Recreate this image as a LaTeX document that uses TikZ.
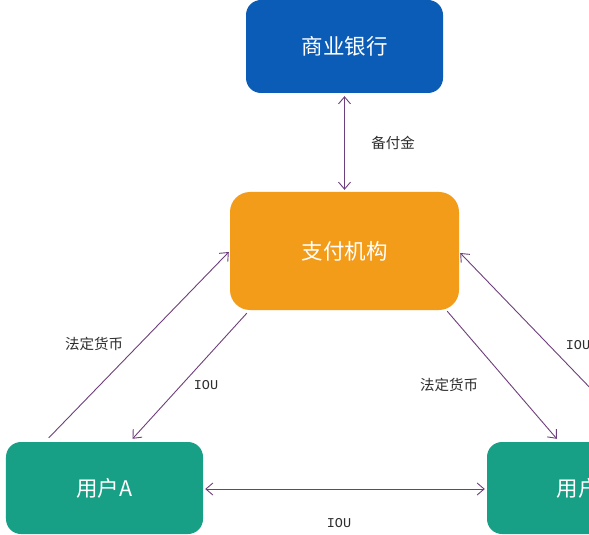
\documentclass[tikz,border=0pt]{standalone}
\usepackage{fontspec}
\setmainfont{Noto Sans CJK SC}
\newfontfamily\ioufont{Liberation Mono}
\usetikzlibrary{arrows.meta,calc}
\definecolor{bankblue}{HTML}{0B5CB6}
\definecolor{payorange}{HTML}{F39C1A}
\definecolor{userteal}{HTML}{17A085}
\definecolor{arrpurple}{HTML}{6E3F7C}
\definecolor{labelgray}{HTML}{2E2E2E}
\tikzset{
  boxnode/.style={rounded corners=15bp, text=white, font=\fontsize{21.5bp}{24bp}\selectfont, inner sep=0pt},
  link/.style={draw=arrpurple, line width=0.9bp},
  tiphead/.style={-{Straight Barb[length=7bp,width=12bp,line width=0.9bp]}},
  bothhead/.style={{Straight Barb[length=7bp,width=12bp,line width=0.9bp]}-{Straight Barb[length=7bp,width=12bp,line width=0.9bp]}},
  lab/.style={text=labelgray, font=\fontsize{14.5bp}{17bp}\selectfont, inner sep=0pt},
  ioulab/.style={text=labelgray, font=\ioufont\fontsize{13.5bp}{16bp}\selectfont, inner sep=0pt}
}
\begin{document}
\begin{tikzpicture}[x=1bp,y=-1bp]
\path[use as bounding box, clip] (0,0) rectangle (589,535);
\fill[white] (0,0) rectangle (589,535);
\node[boxnode, fill=bankblue, minimum width=197bp, minimum height=93bp] (bank) at (344.5,46.5) {商业银行};
\node[boxnode, fill=payorange, rounded corners=20bp, minimum width=229bp, minimum height=118bp] (pay) at (344.5,251) {支付机构};
\node[boxnode, fill=userteal, minimum width=197bp, minimum height=92bp] (ua) at (104.5,488) {用户A};
\node[boxnode, fill=userteal, minimum width=197bp, minimum height=92bp] (ub) at (585.5,488) {用户B};
\coordinate (offb) at (622,421);
% bank <-> pay
\draw[link, bothhead] ($(bank.south)+(0,3)$) -- ($(pay.north)+(0,-2)$);
\node[lab] (lbf) at (393,143) {备付金};
% ua -> pay (legal currency)
\draw[link, tiphead] ($(ua.north west)+(43,-4)$) -- ($(pay.west)+(-1,1)$);
\node[lab] (l1) at (94,344) {法定货币};
% pay -> ua (IOU)
\draw[link, tiphead] ($(pay.south west)+(17,3)$) -- ($(ua.north)+(28,-3)$);
\node[ioulab] (l2) at (206,385) {IOU};
% pay -> ub (legal currency)
\draw[link, tiphead] ($(pay.south east)+(-12,1)$) -- ($(ub.north west)+(70,-3)$);
\node[lab] (l3) at (449,385) {法定货币};
% ub -> pay (IOU)
\draw[link, tiphead] (offb) -- ($(pay.east)+(1,2)$);
\node[ioulab] (l4) at (578,345) {IOU};
% ua <-> ub
\draw[link, bothhead] ($(ua.east)+(2,1)$) -- ($(ub.west)+(-2,1)$);
\node[ioulab] (l5) at (339,523) {IOU};
\end{tikzpicture}
\end{document}
